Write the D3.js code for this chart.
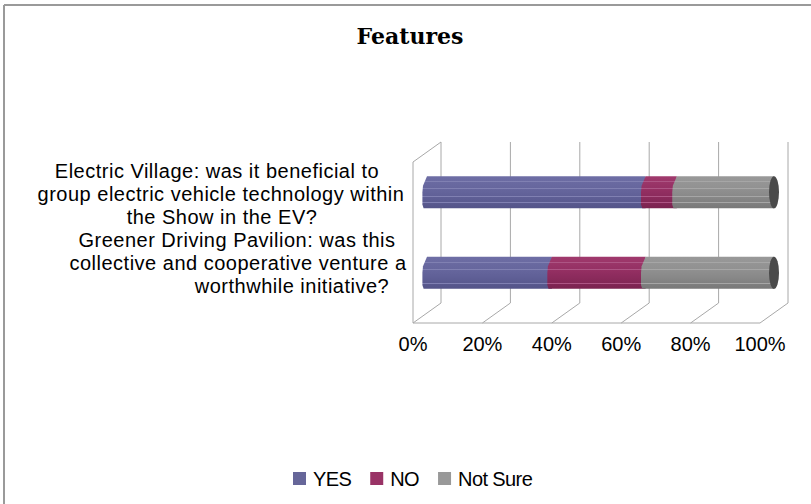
<!DOCTYPE html>
<html>
<head>
<meta charset="utf-8">
<script src="https://cdn.jsdelivr.net/npm/d3@7"></script>
<style>
  html, body { margin: 0; padding: 0; background: #fff; }
  svg { display: block; }
  text { font-family: "Liberation Sans", Arial, sans-serif; fill: #000; }
</style>
</head>
<body>
<svg id="chart" width="811" height="504"></svg>
<script>
// ---- data ----
const categories = ["Electric Village", "Greener Driving Pavilion"];
const categoryLines = [
  ["Electric Village: was it beneficial to", "group electric vehicle technology within", "the Show in the EV?"],
  ["Greener Driving Pavilion: was this", "collective and cooperative venture a", "worthwhile initiative?"]
];
const seriesNames = ["YES", "NO", "Not Sure"];
const yesValues = [63, 36];
const noValues = [9, 27];
const notSureValues = [28, 37];
const tickValues = [0, 20, 40, 60, 80, 100];
const tickLabels = ["0%", "20%", "40%", "60%", "80%", "100%"];
const chartTitle = "Features";

// ---- layout / style ----
const W = 811, H = 504;
const front = { x0: 413, x1: 760, y0: 162, y1: 323 };   // front plane of the 3D box
const depth = { dx: 28, dy: -20 };                      // offset of the back wall
const mid = { dx: depth.dx / 2, dy: depth.dy / 2 };     // bars sit half way back
const labelCenters = [[217, 221, 222], [237, 238, 292]];
const labelBaselines = [[178, 201, 224], [247, 270, 293]];
const gridColor = "#a8a8a8";
const seriesStyle = {
  "YES":      { legend: "#666699", top: "#6e6ea5", base: "#64649b", bottom: "#545488", stripe: "#8080b2" },
  "NO":       { legend: "#993366", top: "#a03a6d", base: "#922e61", bottom: "#7a234f", stripe: "#ad5584" },
  "Not Sure": { legend: "#999999", top: "#999999", base: "#8e8e8e", bottom: "#787878", stripe: "#a6a6a6" }
};
const capColor = "#4a4a4a";

const svg = d3.select("#chart");

// table rows built from the arrays above
const rows = categories.map((c, i) => ({
  category: c, "YES": yesValues[i], "NO": noValues[i], "Not Sure": notSureValues[i]
}));
const stacked = d3.stack().keys(seriesNames)(rows);

const x = d3.scaleLinear().domain([0, 100]).range([front.x0, front.x1]);
const y = d3.scaleBand().domain(categories).range([front.y0, front.y1])
  .paddingInner(0.6).paddingOuter(0.3);

// ---- chart frame ----
svg.append("line").attr("x1", 4).attr("y1", 5).attr("x2", W).attr("y2", 5)
  .attr("stroke", "#9a9a9a").attr("stroke-width", 2);
svg.append("line").attr("x1", 4).attr("y1", 5).attr("x2", 4).attr("y2", H)
  .attr("stroke", "#9a9a9a").attr("stroke-width", 2);

// ---- title ----
svg.append("text").attr("x", 410).attr("y", 44).attr("text-anchor", "middle")
  .style("font-family", "'DejaVu Serif', serif").style("font-weight", "bold")
  .style("font-size", "22px").text(chartTitle);

// ---- gradients ----
const defs = svg.append("defs");
const stripeAt = [0.17, 0.39, 0.63, 0.83];
seriesNames.forEach((s, i) => {
  const st = seriesStyle[s];
  const g = defs.append("linearGradient").attr("id", "grad" + i)
    .attr("x1", 0).attr("y1", 0).attr("x2", 0).attr("y2", 1);
  const col = t => t < 0.5 ? d3.interpolateRgb(st.top, st.base)(t / 0.5)
                           : d3.interpolateRgb(st.base, st.bottom)((t - 0.5) / 0.5);
  const stops = [[0, col(0)]];
  stripeAt.forEach(p => {
    stops.push([p - 0.012, col(p - 0.012)]);
    stops.push([p - 0.012, st.stripe]);
    stops.push([p + 0.012, st.stripe]);
    stops.push([p + 0.012, col(p + 0.012)]);
  });
  stops.push([1, col(1)]);
  stops.forEach(([o, c]) => g.append("stop").attr("offset", o).attr("stop-color", c));
});

// ---- 3D box: walls, floor, gridlines ----
const grid = svg.append("g").attr("fill", "none").attr("stroke", gridColor).attr("stroke-width", 1);
// back wall gridlines
grid.selectAll("line.back").data(tickValues).join("line").attr("class", "back")
  .attr("x1", d => x(d) + depth.dx).attr("x2", d => x(d) + depth.dx)
  .attr("y1", front.y0 + depth.dy).attr("y2", front.y1 + depth.dy);
// floor lines
grid.selectAll("line.floor").data(tickValues).join("line").attr("class", "floor")
  .attr("x1", d => x(d)).attr("y1", front.y1)
  .attr("x2", d => x(d) + depth.dx).attr("y2", front.y1 + depth.dy);
// floor front edge
grid.append("line").attr("x1", x(0)).attr("x2", x(100)).attr("y1", front.y1).attr("y2", front.y1);
// side wall
grid.append("path").attr("d",
  `M${x(0)},${front.y1} L${x(0)},${front.y0} L${x(0) + depth.dx},${front.y0 + depth.dy}`);

// ---- cylinders ----
// left profile of a segment (relative offset px, fraction of height)
const leftProfile = [[0, 0], [-4, 0.3], [-4.6, 0.5], [-4.6, 0.88], [-3.4, 1]];
function segmentPath(xs, xe, top, h) {
  let p = `M${xs},${top} L${xe},${top} L${xe},${top + h}`;
  for (let k = leftProfile.length - 1; k >= 0; k--) {
    p += ` L${xs + leftProfile[k][0]},${top + leftProfile[k][1] * h}`;
  }
  return p + "Z";
}

const barsG = svg.append("g");
categories.forEach((c, ci) => {
  const top = y(c) + mid.dy;
  const h = y.bandwidth();
  stacked.forEach((layer, si) => {
    const d = layer[ci];
    barsG.append("path")
      .attr("d", segmentPath(x(d[0]) + mid.dx, x(d[1]) + mid.dx, top, h))
      .attr("fill", `url(#grad${si})`);
  });
  const end = stacked[stacked.length - 1][ci][1];
  barsG.append("ellipse")
    .attr("cx", x(end) + mid.dx).attr("cy", top + h / 2)
    .attr("rx", 5).attr("ry", h / 2).attr("fill", capColor);
});

// ---- x-axis labels ----
svg.append("g").selectAll("text").data(tickValues).join("text")
  .attr("x", d => x(d)).attr("y", 351).attr("text-anchor", "middle")
  .style("font-size", "20px").text((d, i) => tickLabels[i]);

// ---- category labels ----
const catG = svg.append("g");
categoryLines.forEach((lines, ci) => {
  lines.forEach((line, li) => {
    catG.append("text")
      .attr("x", labelCenters[ci][li]).attr("y", labelBaselines[ci][li])
      .attr("text-anchor", "middle").style("font-size", "20px")
      .style("letter-spacing", "0.5px").text(line);
  });
});

// ---- legend ----
const legend = svg.append("g");
let lx = 293;
seriesNames.forEach((s, i) => {
  legend.append("rect").attr("x", lx).attr("y", 472).attr("width", 13).attr("height", 13)
    .attr("fill", seriesStyle[s].legend);
  const t = legend.append("text").attr("x", lx + 20).attr("y", 486)
    .style("font-size", "20px").style("letter-spacing", "-0.6px").text(s);
  lx += 20 + t.node().getComputedTextLength() + 19;
});
</script>
</body>
</html>
